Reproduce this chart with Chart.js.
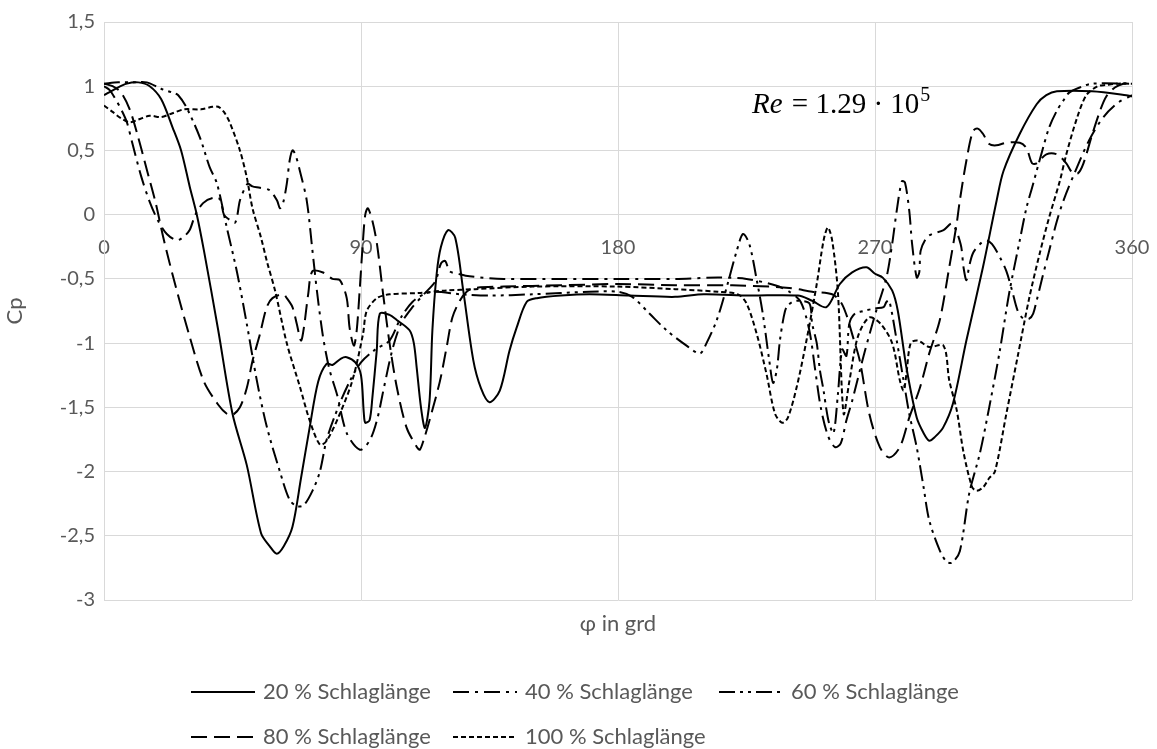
<!DOCTYPE html>
<html>
<head>
<meta charset="utf-8">
<script src="https://cdn.jsdelivr.net/npm/chart.js@4.4.1/dist/chart.umd.min.js"></script>
<style>
  html, body { margin: 0; padding: 0; background: #fff; }
</style>
</head>
<body>
<canvas id="cpChart" width="1157" height="749"></canvas>
<script>
// Druckbeiwert Cp über Umfangswinkel phi, je Schlaglänge
const phi20 = [0,4,8,12,16,20,24,27,30,32.5,35,40,45,50,55,58,60.5,63,66,69,72,75,78,80,83,85,88,90,91,91.5,93,94,95.5,96.6,100,102.5,107,108.5,109.5,111,112.4,114,115,116.5,118,120.5,123,125.8,129.3,132,135,138.6,142,144.5,148,151.6,160,170,184,200,210,226,243,248,253,257.7,262,267,270,272.7,276,278,281,284.6,287,289,291,293.8,297.3,302,307.8,312.6,315,320.7,326.6,330,333.7,346,358,360];
const cp20  = [0.93,0.98,1.02,1.03,1.0,0.9,0.68,0.5,0.22,0,-0.28,-0.9,-1.55,-1.95,-2.48,-2.58,-2.64,-2.58,-2.43,-2.05,-1.66,-1.3,-1.16,-1.17,-1.12,-1.11,-1.15,-1.25,-1.55,-1.62,-1.6,-1.42,-1.06,-0.77,-0.78,-0.82,-0.9,-1.0,-1.19,-1.5,-1.66,-1.45,-0.9,-0.46,-0.25,-0.12,-0.18,-0.59,-1.13,-1.35,-1.46,-1.37,-1.06,-0.88,-0.68,-0.65,-0.63,-0.62,-0.63,-0.64,-0.62,-0.63,-0.63,-0.67,-0.72,-0.54,-0.45,-0.41,-0.46,-0.49,-0.59,-0.75,-1.19,-1.58,-1.7,-1.76,-1.73,-1.66,-1.47,-0.98,-0.41,0.11,0.34,0.63,0.86,0.93,0.96,0.96,0.93,0.92];

const phi40 = [0,2,4,6,8,10,13,16,19,22,25.5,28,30,32,34.7,38,40.6,42,44,46,47.6,49.4,50.4,52,54.6,58,60.6,61.6,62.7,64,65,66,67,68.6,71,73,74.6,76.7,79,81.6,85,89.6,93,95.6,98,101,104,108,112,116,118,119.5,121,124,128,140,160,180,200,215,225,235,240,244,247,249,251,253.5,256,258,260,262,266,270,274,276,277.6,279.4,280.5,282,283,284.6,285.5,286,288,290,294,297,300,301,302,303,304.3,306.7,309,311,313.7,316,318,320,322,324,325.4,326.6,328.6,331,333.7,336,340,345,350,355,360];
const cp40  = [1.0,0.97,0.9,0.82,0.72,0.55,0.3,0.1,-0.05,-0.15,-0.2,-0.17,-0.12,0,0.09,0.13,0.12,0,-0.04,-0.06,0.11,0.21,0.24,0.22,0.21,0.19,0.11,0.05,0.09,0.24,0.42,0.5,0.47,0.34,0.11,-0.28,-0.6,-0.95,-1.21,-1.4,-1.7,-1.83,-1.76,-1.6,-1.35,-1.05,-0.85,-0.72,-0.62,-0.52,-0.38,-0.36,-0.44,-0.46,-0.48,-0.5,-0.5,-0.5,-0.5,-0.49,-0.5,-0.55,-0.6,-0.68,-0.9,-1.2,-1.5,-1.72,-1.81,-1.78,-1.6,-1.45,-1.1,-0.78,-0.49,-0.23,0.03,0.26,0.25,0.03,-0.23,-0.49,-0.45,-0.28,-0.18,-0.15,-0.12,-0.07,-0.23,-0.41,-0.51,-0.4,-0.3,-0.23,-0.2,-0.23,-0.33,-0.44,-0.59,-0.75,-0.81,-0.81,-0.77,-0.67,-0.49,-0.28,-0.05,0.11,0.33,0.58,0.76,0.87,0.93];

const phi60 = [0,5,10,15,20,24,26,29,33.6,37,39.6,43,46.6,50,53.6,57,61.6,65,67.6,70,73,75.6,78,82,86,90,95,100,104,108,112,116,125,135,150,170,180,185,191,197,204,208.7,211,214.6,218,221.6,223.8,226,228.6,230.7,233,234.3,235.6,236.7,238,239,241,243,247,248,249.6,250.7,252,253,254,255.5,257,258.5,260,261,263,266,270,273,274,275,277.6,280,282,284.6,287,289,292.6,295,297,299.7,303,306.7,310,313.7,317,320.7,323,325,328.6,331,333.7,336,338,341.7,346,360];
const cp60  = [1.02,1.03,1.03,1.03,0.98,0.95,0.93,0.83,0.6,0.37,0.24,-0.1,-0.45,-0.85,-1.3,-1.65,-2.0,-2.22,-2.27,-2.26,-2.15,-2.0,-1.75,-1.5,-1.3,-1.15,-1.05,-0.98,-0.8,-0.68,-0.62,-0.6,-0.62,-0.63,-0.62,-0.6,-0.6,-0.64,-0.77,-0.9,-1.02,-1.08,-1.0,-0.82,-0.57,-0.28,-0.15,-0.23,-0.51,-0.77,-1.14,-1.31,-1.21,-0.98,-0.8,-0.72,-0.68,-0.67,-0.69,-0.85,-1.0,-1.21,-1.37,-1.52,-1.63,-1.7,-1.4,-1.05,-1.1,-0.85,-0.77,-0.75,-0.73,-0.72,-0.68,-0.67,-0.98,-1.29,-1.55,-1.81,-2.12,-2.38,-2.61,-2.7,-2.71,-2.62,-2.17,-1.86,-1.5,-1.06,-0.61,-0.2,0.05,0.21,0.5,0.68,0.81,0.89,0.95,0.99,1.02,1.02];

const phi80 = [0,3,6,9,12,15,18,21,25,30,35,40,43,45,47.6,50,52,54.6,57,59,62.7,64,66,67.5,69,70,71.5,73,76.7,80,82.6,85,86,87.5,88.5,89.5,90.7,91.5,92.4,94,95.6,97.7,100,102.6,106,109.6,110.6,112,114,117.6,120,122,124.6,127,130,140,160,180,200,220,240,248,255,258,260,262,264.7,268,271.7,275,278.7,282,285.7,289,292.7,296,298.6,299.7,302,304.3,306,307.8,310,312.5,316,320.7,323,325,326.6,330,333.7,337,339,341,343,346,349,351,354,357,360];
const cp80  = [1.02,1.0,0.95,0.82,0.6,0.35,0.1,-0.2,-0.55,-0.95,-1.3,-1.48,-1.55,-1.56,-1.5,-1.35,-1.14,-0.93,-0.72,-0.65,-0.62,-0.65,-0.72,-0.85,-0.98,-0.88,-0.62,-0.44,-0.45,-0.5,-0.51,-0.65,-0.88,-1.02,-0.9,-0.6,-0.2,0,0.05,-0.05,-0.23,-0.61,-1.0,-1.35,-1.66,-1.81,-1.83,-1.75,-1.6,-1.3,-1.03,-0.8,-0.67,-0.6,-0.57,-0.56,-0.55,-0.54,-0.55,-0.55,-0.57,-0.6,-0.62,-0.68,-0.78,-0.93,-1.14,-1.55,-1.81,-1.89,-1.81,-1.58,-1.35,-1.08,-0.82,-0.41,-0.07,0.11,0.42,0.65,0.67,0.63,0.55,0.54,0.56,0.56,0.52,0.4,0.4,0.47,0.47,0.4,0.33,0.32,0.4,0.62,0.82,0.92,0.99,1.02,1.02];

const phi100 = [0,3,6,9,12,16,20,24,28,34,38,40,42,44,47.6,50,52,55,57,60,64,68.6,72,75.6,78,82.6,87,90.7,92,95.6,100,110,120,130,150,180,200,215,222,225,228.6,232,235,237.5,239.5,242.6,246,249.6,252,253.5,255,257,259,261,264,268,272,276,278.7,280,281,282.5,285,289,294,296,298.6,301,304,305.6,308,310,312,316,320,324,327.7,331,334.7,337,340.7,344,348,351,355,360];
const cp100  = [0.85,0.8,0.75,0.72,0.74,0.77,0.76,0.79,0.82,0.82,0.84,0.84,0.8,0.72,0.5,0.29,0.05,-0.18,-0.36,-0.6,-1.0,-1.34,-1.6,-1.79,-1.76,-1.55,-1.29,-0.93,-0.75,-0.65,-0.62,-0.61,-0.59,-0.58,-0.56,-0.56,-0.58,-0.6,-0.62,-0.69,-0.93,-1.24,-1.55,-1.62,-1.58,-1.34,-0.98,-0.54,-0.2,-0.1,-0.2,-0.6,-1.55,-1.3,-0.95,-0.8,-0.85,-1.0,-1.29,-1.37,-1.24,-1.0,-0.98,-1.03,-1.02,-1.29,-1.52,-1.85,-2.12,-2.15,-2.12,-2.05,-2.0,-1.55,-1.1,-0.65,-0.3,-0.02,0.26,0.47,0.75,0.93,1.0,1.01,1.02,1.02];

const seriesNames = ['20 % Schlaglänge', '40 % Schlaglänge', '60 % Schlaglänge', '80 % Schlaglänge', '100 % Schlaglänge'];
const seriesPhi = [phi20, phi40, phi60, phi80, phi100];
const seriesCp = [cp20, cp40, cp60, cp80, cp100];
const seriesDash = [[], [16, 6, 3, 6], [16, 5, 3, 5, 3, 5], [16, 7], [5, 3]];

const xTicks = [0, 90, 180, 270, 360];
const yMin = -3, yMax = 1.5, yStep = 0.5;

const textGrey = '#595959';
const gridGrey = '#d9d9d9';
const baseFont = 'Lato, "Open Sans", sans-serif';

const datasets = seriesNames.map((name, i) => ({
  label: name,
  data: seriesPhi[i].map((p, k) => ({ x: p, y: seriesCp[i][k] })),
  borderColor: '#000',
  backgroundColor: '#000',
  borderWidth: 2,
  borderDash: seriesDash[i],
  pointRadius: 0,
  tension: 0.3,
  fill: false
}));

// Achsentitel, Re-Zahl und Legende selbst zeichnen
const extras = {
  id: 'extras',
  afterDraw(chart) {
    const ctx = chart.ctx;
    const area = chart.chartArea;
    ctx.save();

    // x-Achsentitel
    ctx.fillStyle = textGrey;
    ctx.font = '22px ' + baseFont;
    ctx.textAlign = 'center';
    ctx.textBaseline = 'middle';
    ctx.fillText('φ in grd', (area.left + area.right) / 2, 624);

    // Re = 1.29 · 10^5
    ctx.fillStyle = '#000';
    ctx.textBaseline = 'alphabetic';
    ctx.textAlign = 'left';
    const base = 113;
    let x = 752;
    ctx.font = 'italic 29px "Liberation Serif", serif';
    ctx.fillText('Re', x, base);
    x += ctx.measureText('Re').width;
    ctx.font = '29px "Liberation Serif", serif';
    const rest = ' = 1.29 · 10';
    ctx.fillText(rest, x + 2, base);
    x += 2 + ctx.measureText(rest).width;
    ctx.font = '20px "Liberation Serif", serif';
    ctx.fillText('5', x + 1, base - 12);

    // Legende: drei Spalten, zwei Zeilen
    ctx.font = '22px ' + baseFont;
    ctx.textBaseline = 'middle';
    const sample = 64, gap = 8;
    const colX = [191, 453, 719];
    const rows = [692, 737];
    chart.data.datasets.forEach((ds, i) => {
      const r = i < 3 ? 0 : 1;
      const c = i < 3 ? i : i - 3;
      const lx = colX[c], ly = rows[r];
      ctx.strokeStyle = '#000';
      ctx.lineWidth = 2;
      ctx.setLineDash(ds.borderDash || []);
      ctx.beginPath();
      ctx.moveTo(lx, ly);
      ctx.lineTo(lx + sample, ly);
      ctx.stroke();
      ctx.setLineDash([]);
      ctx.fillStyle = textGrey;
      ctx.fillText(ds.label, lx + sample + gap, ly);
    });
    ctx.restore();
  }
};

new Chart(document.getElementById('cpChart'), {
  type: 'line',
  data: { datasets },
  plugins: [extras],
  options: {
    responsive: false,
    animation: false,
    devicePixelRatio: 1,
    layout: { padding: { top: 22, right: 25, bottom: 149, left: 0 } },
    plugins: {
      legend: { display: false },
      tooltip: { enabled: false }
    },
    scales: {
      x: {
        type: 'linear',
        position: { y: 0 },
        min: 0,
        max: 360,
        afterBuildTicks: (axis) => { axis.ticks = xTicks.map(v => ({ value: v })); },
        afterFit: (axis) => { axis.paddingLeft = 0; axis.paddingRight = 0; },
        grid: { color: gridGrey, lineWidth: 1, drawTicks: false },
        border: { color: gridGrey },
        ticks: { color: textGrey, font: { family: baseFont, size: 20 }, padding: 21, maxRotation: 0 }
      },
      y: {
        min: yMin,
        max: yMax,
        afterFit: (axis) => { axis.width = 104; },
        grid: { color: gridGrey, lineWidth: 1, drawTicks: false },
        border: { color: gridGrey },
        ticks: {
          stepSize: yStep,
          color: textGrey,
          padding: 9,
          font: { family: baseFont, size: 20 },
          callback: (v) => String(v).replace('.', ',')
        },
        title: { display: true, text: 'Cp', color: textGrey, font: { family: baseFont, size: 22 }, padding: { top: 2, bottom: 0 } }
      }
    }
  }
});
</script>
</body>
</html>
